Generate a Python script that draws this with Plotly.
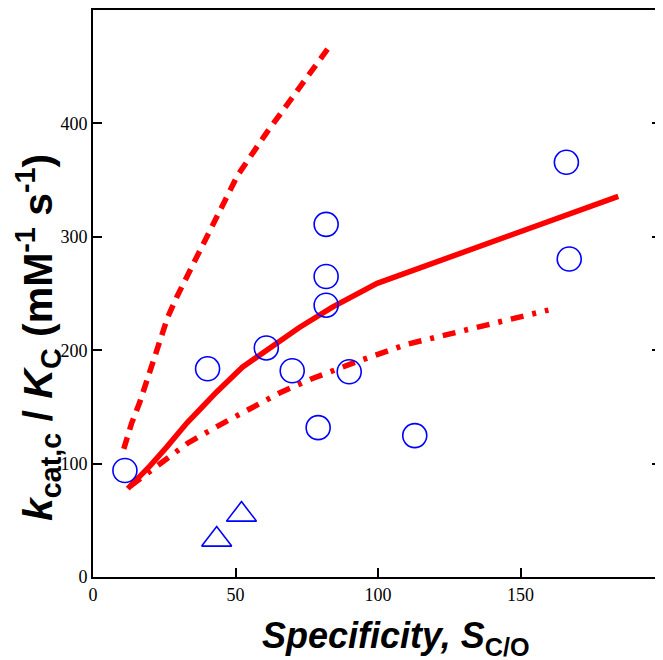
import plotly.graph_objects as go

# Observed data points (open circles)
circle_x = [11.2, 40.2, 60.8, 69.9, 79.0, 81.8, 81.8, 81.8, 89.9, 112.9, 166.1, 167.1]
circle_y = [93.9, 183.6, 202.0, 181.9, 131.7, 311.0, 265.0, 239.7, 181.0, 124.7, 365.7, 280.4]

# Open triangles
tri_x = [43.4, 52.1]
tri_y = [33.0, 55.0]

# Solid red curve
solid_x = [12.2, 16, 20, 26, 33, 38, 43.3, 52.4, 60.7, 72.4, 84, 99.7, 184.3]
solid_y = [78, 87, 98, 115, 136, 149, 163, 185, 199, 220, 238, 259, 335.6]

# Upper dashed red curve
dash_x = [10.8, 13.6, 16.4, 19.2, 21, 23.4, 26.2, 29.4, 36.4, 43.3, 50.7, 60.7, 71.3, 83.6]
dash_y = [113, 136, 154, 176, 189, 207, 229, 247, 282, 319, 354, 391, 427, 470]

# Lower dash-dot red curve
dd_x = [13, 22.4, 33.2, 44.4, 55.6, 66, 77, 92.7, 109.8, 125.9, 142.3, 159.8]
dd_y = [80, 97, 118, 134, 149, 163, 175, 190, 205, 215, 225, 235.4]

x_ticks = [0, 50, 100, 150]
y_ticks = [0, 100, 200, 300, 400]

RED = "#FF0000"
BLUE = "#0000FF"

fig = go.Figure()
fig.add_trace(go.Scatter(x=dash_x, y=dash_y, mode="lines",
                         line=dict(color=RED, width=5.5, dash="12px,8px")))
fig.add_trace(go.Scatter(x=dd_x, y=dd_y, mode="lines",
                         line=dict(color=RED, width=5.5, dash="13px,9px,4px,9px")))
fig.add_trace(go.Scatter(x=solid_x, y=solid_y, mode="lines",
                         line=dict(color=RED, width=5.5)))
fig.add_trace(go.Scatter(x=circle_x, y=circle_y, mode="markers",
                         marker=dict(symbol="circle-open", size=24, color=BLUE,
                                     line=dict(width=1.6, color=BLUE))))
fig.add_trace(go.Scatter(x=tri_x, y=tri_y, mode="markers",
                         marker=dict(symbol="triangle-up-open", size=26, color=BLUE,
                                     line=dict(width=1.6, color=BLUE))))

tickfont = dict(family="Liberation Serif", size=18, color="black")
fig.update_layout(
    width=655, height=652,
    margin=dict(l=85, r=0, t=1, b=83),
    plot_bgcolor="white", paper_bgcolor="white",
    showlegend=False,
    xaxis=dict(range=[0, 199.3], tickvals=x_ticks, ticks="inside", ticklen=9,
               tickwidth=1.5, tickcolor="black", showline=True, linewidth=2,
               linecolor="black", mirror=True, showgrid=False, zeroline=False,
               tickfont=tickfont),
    yaxis=dict(range=[0, 500], tickvals=y_ticks, ticks="inside", ticklen=9,
               tickwidth=1.5, tickcolor="black", showline=True, linewidth=2,
               linecolor="black", mirror="ticks", showgrid=False, zeroline=False,
               tickfont=tickfont),
    annotations=[
        dict(text="<b><i>Specificity, S</i><sub>C/O</sub></b>", xref="paper", yref="paper",
             x=0.533, y=-0.107, xanchor="center", yanchor="middle", showarrow=False,
             font=dict(family="Liberation Sans", size=36, color="black")),
        dict(text="<b><i>k</i><sub>cat,c</sub> / <i>K</i><sub>C</sub> (mM<sup>-1</sup> s<sup>-1</sup>)</b>",
             xref="paper", yref="paper", x=-0.097, y=0.423, xanchor="center",
             yanchor="middle", textangle=-90, showarrow=False,
             font=dict(family="Liberation Sans", size=41, color="black")),
    ],
)

fig.write_html("out.html")
